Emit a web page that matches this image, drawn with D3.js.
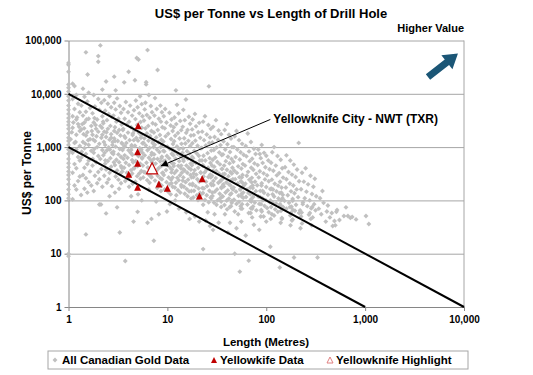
<!DOCTYPE html>
<html>
<head>
<meta charset="utf-8">
<script src="https://cdn.jsdelivr.net/npm/d3@7"></script>
<style>
  body { margin: 0; background: #fff; }
  svg { font-family: "Liberation Sans", Arial, sans-serif; font-weight: bold; }
</style>
</head>
<body>
<svg id="drawing_region"></svg>
<script>
// tick values
const xTicks = [1, 10, 100, 1000, 10000];
const yTicks = [1, 10, 100, 1000, 10000, 100000];

// All Canadian gold data [length m, US$ per tonne]
const canadianGold = [
  [1,38000],[1,35000],[1,26000],[1,15000],[1,13000],[1,11000],[1,9000],[1,7500],[1,6000],[1,5000],[1,4200],[1,3500],[1,3000],[1,2600],[1,2200],[1,1800],[1,1500],[1,1300],[1,1100],[1,900],[1,750],[1,600],[1,500],[1,420],[1,350],[1,300],[1,250],[1,200],[1,160],[1,130],[1,110],[1,10],[1,9],
  [1.1,15500],[1.15,14000],[1.2,9500],[1.1,8000],[1.25,6500],[1.15,5200],[1.3,4500],[1.1,3800],[1.2,3300],[1.25,2700],[1.1,2300],[1.3,2000],[1.2,1700],[1.05,1400],[1.15,1200],[1.3,1050],[1.2,900],[1.1,780],[1.25,650],[1.3,560],[1.15,480],[1.2,400],[1.1,330],[1.3,280],[1.25,230],[1.15,190],[1.2,160],[1.34,126],[1.1,105],
  [1.5,60000],[1.56,23000],[1.4,12500],[1.6,10500],[1.45,8800],[1.55,7200],[1.35,6000],[1.65,5400],[1.5,4600],[1.4,3900],[1.6,3400],[1.45,2900],[1.7,2500],[1.35,2150],[1.55,1900],[1.5,1650],[1.65,1400],[1.4,1250],[1.6,1100],[1.45,950],[1.7,850],[1.5,740],[1.35,640],[1.6,560],[1.55,480],[1.45,410],[1.65,350],[1.4,300],[1.5,260],[1.6,220],[1.7,190],[1.45,165],[1.55,140],[1.5,23],
  [2.1,81000],[2,51000],[2,40000],[2.2,12000],[1.8,9500],[2,8000],[2.15,6800],[1.85,5800],[2.05,5000],[1.75,4300],[2.2,3800],[1.95,3300],[1.8,2900],[2.1,2500],[1.9,2200],[2,1950],[1.75,1700],[2.15,1500],[1.85,1300],[2.05,1150],[1.95,1000],[2.2,880],[1.8,780],[2,680],[2.1,600],[1.9,520],[1.75,450],[2.15,390],[2,340],[1.85,290],[2.05,250],[1.95,210],[2.2,180],[2.05,84],[2.13,84],[1.8,150],
  [2.4,17000],[2.6,9000],[2.3,7600],[2.5,6500],[2.7,5600],[2.35,4800],[2.55,4200],[2.75,3700],[2.45,3200],[2.25,2800],[2.65,2500],[2.5,2200],[2.3,1950],[2.7,1750],[2.4,1550],[2.6,1380],[2.8,1250],[2.35,1100],[2.55,980],[2.45,870],[2.75,780],[2.25,700],[2.65,620],[2.5,550],[2.35,490],[2.7,430],[2.4,380],[2.6,330],[2.3,290],[2.55,250],[2.45,215],[2.75,185],[2.4,57],[2.6,120],
  [2.9,21000],[3,11600],[3.1,8200],[2.9,6800],[3.3,5900],[3,5100],[3.4,4400],[2.85,3900],[3.2,3400],[3.05,3000],[3.45,2650],[2.95,2350],[3.25,2100],[3.1,1850],[3.35,1650],[2.9,1450],[3.15,1300],[3.5,1150],[3,1020],[3.3,920],[2.85,820],[3.2,730],[3.4,650],[3.05,580],[3.25,520],[2.95,460],[3.45,410],[3.1,365],[3.35,320],[3,280],[3.2,245],[3.4,210],[3.3,25],[3.1,74],[2.95,140],[3.25,165],
  [3.66,16400],[4.06,26000],[3.8,7000],[4.2,6000],[3.6,5200],[4,4500],[4.4,3900],[3.7,3400],[4.1,3000],[3.9,2650],[4.3,2350],[3.55,2100],[4,1870],[4.45,1680],[3.75,1500],[4.15,1350],[3.85,1200],[4.35,1080],[3.6,970],[4.05,870],[4.25,780],[3.7,700],[3.95,630],[4.4,570],[3.8,510],[4.1,460],[3.65,410],[4.3,370],[3.9,330],[4.2,295],[4,260],[3.75,230],[4.45,205],[4.1,180],[3.75,7.3],[4.55,40],[4.3,120],
  [4.9,47000],[5.1,44000],[4.7,18000],[5.3,9000],[4.8,7500],[5.5,6400],[5,5600],[4.6,4900],[5.2,4300],[5.6,3800],[4.75,3350],[5.35,2950],[4.95,2600],[5.5,2300],[4.65,2050],[5.15,1850],[5.45,1650],[4.85,1480],[5.05,1320],[5.6,1180],[4.7,1060],[5.25,950],[5.4,850],[4.9,760],[5.1,680],[5.55,610],[4.8,550],[5.3,490],[5,440],[4.6,395],[5.45,355],[5.2,320],[4.95,285],[5.35,255],[5,61],[5.05,130],[5.5,100],[4.75,225],
  [6.3,66000],[6.1,16500],[6.1,15000],[6.5,9500],[6,6800],[6.8,5900],[5.9,5100],[7,4500],[6.2,4000],[6.6,3550],[5.8,3150],[7.1,2800],[6.4,2500],[6,2250],[6.9,2000],[6.2,1800],[6.7,1620],[5.85,1460],[6.45,1320],[7.1,1190],[6.05,1070],[6.6,960],[6.3,870],[6.95,780],[5.9,700],[6.5,630],[6.8,570],[6.15,510],[7.05,460],[6.35,415],[6.7,375],[5.95,335],[6.55,300],[6.9,270],[6.25,240],[6.6,215],[6.3,38],[7.3,17.5],[6.9,45],[6.5,160],
  [7.96,28000],[7.5,8300],[8.5,6000],[7.8,5200],[8.8,4500],[7.4,3900],[8.2,3400],[8.6,3000],[7.6,2650],[8.9,2350],[8,2100],[7.3,1880],[8.4,1690],[7.7,1520],[8.7,1370],[8.1,1230],[7.45,1110],[8.55,1000],[7.85,900],[8.3,810],[7.35,730],[8.8,660],[7.95,600],[8.45,540],[7.6,490],[8.65,440],[8.15,400],[7.75,360],[8.9,325],[8,290],[8.5,260],[7.5,235],[8.25,210],[8.75,190],[7.9,170],[8.6,150],[8.2,55],[7.7,95],
  [9.5,5200],[10.5,4400],[9.2,3800],[11,3300],[9.8,2900],[10.8,2550],[9.4,2250],[11.3,2000],[10.2,1780],[9.6,1590],[10.9,1420],[9.1,1270],[11.4,1140],[10,1020],[10.6,920],[9.3,830],[11.1,750],[9.9,680],[10.4,615],[9.5,555],[11.2,500],[10.1,455],[10.7,410],[9.7,370],[11,335],[9.2,300],[10.3,270],[10.9,245],[9.8,220],[10.5,200],[11.3,180],[9.4,160],[10.2,145],[10.8,130],[9.9,62],[10.6,85],
  [12.2,11600],[12.5,6200],[13,4300],[11.8,3600],[13.5,3100],[12.3,2700],[11.6,2350],[13.8,2080],[12.8,1840],[12,1630],[13.3,1450],[11.7,1290],[13.9,1150],[12.5,1030],[13.1,920],[11.9,830],[12.7,745],[13.6,670],[12.1,605],[13.2,545],[11.6,490],[12.9,445],[13.7,400],[12.4,360],[11.8,325],[13.4,295],[12.6,265],[13,240],[12.2,215],[13.8,195],[11.9,175],[12.8,155],[13.5,140],[12.3,125],[13.1,70],[12,100],
  [15.4,7800],[14.5,5000],[16.5,3700],[15,3200],[17,2750],[14.3,2400],[16,2100],[15.5,1850],[17.3,1650],[14.8,1470],[16.3,1310],[15.2,1170],[17,1050],[14.4,940],[15.8,840],[16.8,755],[15.1,680],[16.1,610],[14.6,550],[17.2,495],[15.6,450],[16.5,405],[14.9,365],[15.9,330],[17.1,300],[14.5,270],[16.2,245],[15.3,220],[16.9,200],[14.7,180],[15.7,163],[16.6,148],[15,133],[16,120],[17.4,108],[15.5,60],[16.8,45],
  [19,4200],[18,3300],[21,2850],[19.5,2450],[17.8,2150],[20.5,1900],[18.5,1680],[21.5,1490],[19.2,1320],[17.9,1180],[20.2,1060],[21.8,950],[18.7,850],[19.8,765],[20.8,690],[18.2,620],[21.3,560],[19.4,505],[17.7,455],[20.5,410],[18.9,370],[21.7,335],[19.6,305],[18.4,275],[20.1,250],[21,225],[18,205],[19.3,185],[20.7,168],[18.6,152],[21.4,138],[19.9,125],[18.3,113],[20.4,102],[23,12.2],[19,50],[21,40],
  [26.3,13800],[24,3800],[23,3000],[26,2600],[27.5,2200],[22.5,1950],[25,1720],[27,1520],[23.5,1350],[26.5,1200],[24.5,1070],[22.3,960],[27.8,860],[25.5,770],[23.2,690],[26.8,620],[24.2,560],[27.3,505],[22.8,455],[25.8,410],[24.8,370],[23.8,335],[27.1,305],[26,275],[22.6,250],[24.6,225],[27.6,205],[25.2,185],[23.4,168],[26.6,152],[22.9,138],[25,125],[27.4,113],[24,102],[26.2,92],[23,83],[25.6,60],[24.4,42],[27,33],
  [31,3200],[29,2400],[33,2050],[35,1750],[30,1550],[32.5,1380],[28.5,1220],[34.5,1090],[31.5,980],[29.5,880],[33.5,790],[35.5,710],[30.5,640],[28.8,580],[32,525],[34,475],[29.8,430],[35.8,390],[31.2,355],[33.2,320],[28.3,290],[30.8,262],[34.8,238],[32.8,215],[29.2,195],[35.2,177],[31.8,161],[30.2,146],[33.8,133],[28.6,121],[34.2,110],[32.2,100],[29.6,91],[31.4,83],[35,75],[30,55],[33,38],[29,28],
  [40,2700],[38,2100],[42,1700],[44,1450],[37,1280],[40.5,1130],[45,1000],[38.5,900],[43,810],[36.5,730],[41,660],[44.5,600],[39,545],[42.5,495],[37.5,450],[45.5,410],[40,375],[43.5,342],[38,312],[41.5,285],[36.8,260],[44,238],[39.5,218],[42,200],[37.2,183],[45.2,168],[40.8,154],[38.8,141],[43.2,129],[36.3,118],[41.8,108],[39.8,99],[44.8,90],[37.8,82],[42.8,75],[40.2,68],[38.2,55],[43,38],[41,25],[48,10],
  [50,2000],[48,1600],[53,1350],[57,1150],[47,1000],[51,900],[55,800],[59,720],[49,650],[54,585],[46.5,530],[58,480],[52,435],[56,395],[47.5,360],[50.5,328],[57.5,300],[53.5,273],[48.5,250],[55.5,228],[51.5,208],[59.5,190],[46.8,174],[54.5,159],[49.5,146],[56.5,134],[52.5,122],[58.5,112],[47.2,103],[53,94],[50,86],[55,78],[57,70],[48,62],[52,55],[56,40],[50,30],[54,4.6],
  [65,1800],[70,1250],[62,1050],[75,930],[67,830],[78,740],[63,670],[72,605],[68,545],[76,495],[61,450],[70.5,410],[74,375],[65.5,343],[79,315],[63.5,290],[71.5,265],[67.5,244],[77,224],[61.5,206],[73,190],[69,175],[64,161],[78.5,149],[66,137],[75.5,126],[62.5,116],[71,107],[68.5,99],[76.5,91],[64.5,84],[73.5,77],[70,71],[79.5,65],[66.5,58],[72,48],[66.5,7.4],[75,35],[62,22],
  [86,740],[90,1100],[83,900],[95,780],[100,690],[88,620],[105,560],[92,505],[82,460],[98,420],[108,385],[86,352],[94,322],[102,295],[84,270],[97,248],[106,228],[90,210],[81,193],[100,178],[110,164],[87,151],[95,139],[104,128],[83,118],[92,109],[99,101],[108,93],[85,86],[96,79],[102,72],[89,66],[106,60],[94,50],[100,40],[110,13.5],[85,28],
  [120,1000],[115,800],[130,680],[140,580],[112,510],[125,450],[145,400],[118,360],[135,325],[128,295],[148,268],[114,245],[138,224],[122,205],[132,189],[143,174],[117,160],[127,148],[137,137],[147,127],[120,118],[133,109],[142,101],[113,94],[126,87],[139,80],[148,74],[123,68],[131,61],[137,5.5],[120,52],[144,45],
  [213,1200],[160,700],[175,560],[190,470],[155,420],[205,380],[168,340],[182,305],[198,275],[160,250],[215,228],[173,208],[188,190],[158,175],[203,161],[178,148],[193,136],[165,125],[210,115],[185,106],[153,98],[170,90],[200,83],[180,76],[160,70],[195,64],[215,58],[175,52],[191,8.5],[185,44],
  [250,400],[230,330],[280,290],[310,255],[240,225],[265,200],[300,180],[225,162],[255,146],[290,132],[320,120],[245,110],[275,100],[235,92],[305,85],[260,78],[285,71],[315,65],[228,59],[270,54],[330,8.5],[295,48],
  [340,70],[360,55],[380,90],[410,62],[440,48],[400,40],[350,110],[420,80],[460,58],[370,150],
  [512,61],[520,66],[640,74],[610,51],[670,51],[710,47],[740,49],[810,44],[1020,51],[1090,36],[470,33],[500,34],[550,43],[490,41],
  // dense core of the cloud
  [1.12,2900],[1.08,1900],[1.18,1250],[1.22,3600],[1.06,850],[1.28,2400],
  [1.38,2700],[1.42,1750],[1.48,1150],[1.36,820],[1.52,3300],[1.44,2250],[1.58,1350],
  [1.72,2000],[1.78,1380],[1.82,920],[1.88,2600],[1.76,600],[1.92,1600],[1.83,3500],
  [2.2,1700],[2.28,1250],[2.32,780],[2.18,2300],[2.36,560],[2.24,3000],[2.42,1900],
  [2.7,1500],[2.78,1100],[2.84,740],[2.9,2000],[2.62,900],[2.96,1300],[2.88,520],
  [3.45,1200],[3.52,880],[3.6,600],[3.68,1600],[3.4,440],[3.72,1050],[3.58,2200],[3.5,350],
  [4.35,1000],[4.42,720],[4.5,520],[4.58,1350],[4.3,880],[4.62,410],[4.48,1800],[4.4,320],
  [5.45,900],[5.55,640],[5.65,450],[5.75,1200],[5.4,1500],[5.8,340],[5.6,780],[5.7,270],
  [6.9,720],[7,520],[7.15,360],[7.25,1000],[6.85,280],[7.3,600],[7.2,1300],
  [8.7,620],[8.85,460],[9,330],[9.1,850],[8.8,250],[9.2,540],[8.95,1100],
  [10.9,520],[11.1,380],[11.3,270],[11.5,700],[11,210],[11.6,440],[11.2,900],
  [13.8,450],[14,330],[14.3,235],[14.5,600],[13.9,180],[14.6,380],[14.2,780],
  [17.3,380],[17.6,270],[17.9,195],[18.2,520],[17.5,150],[18.4,320],[17.8,650],
  [21.8,330],[22.2,240],[22.6,170],[23,450],[21.9,130],[23.2,280],[22.4,560],
  [27.5,270],[28,195],[28.5,140],[29,360],[27.8,110],[29.2,230],[28.3,450],
  [34.5,230],[35.2,170],[35.8,120],[36.5,310],[35,95],[36.8,200],[35.5,390],
  [43.5,190],[44.3,135],[45,98],[46,250],[44,78],[46.2,160],[44.8,320],
  [55,165],[56,120],[57,85],[58,210],[55.5,70],[58.5,140],[56.5,270],
  [69,130],[70.5,95],[72,70],[73,170],[69.5,58],[73.5,115],[71,220],
  [87,115],[88.5,85],[90,62],[92,150],[88,50],[92.5,100],[89.5,190],
  [110,100],[112,75],[114,55],[116,130],[111,45],[117,88],[113,165],
  [138,85],[141,64],[144,47],[146,110],[140,38],[147,75],[142,140],
  [174,75],[178,58],[182,42],[185,98],[176,34],[186,66],
  [220,65],[225,50],[230,37],[234,85],[222,30],
  [276,58],[282,45],[288,34],[292,75]
];

// Yellowknife data [length m, US$ per tonne]
const yellowknife = [[5.07,2520],[5,820],[5,497],[4.06,309],[5,176],[8.2,203],[10,169],[22.5,255],[21.1,121]];
// Yellowknife highlight
const highlight = [[7,400]];

// value lines: [start, end]
const upperLine = [[1,10000],[10000,1]];
const lowerLine = [[1,1000],[1000,1]];

// annotation arrow: from label end to highlight
const calloutArrow = [[110,3300],[8.6,442]];

const legendItems = ["All Canadian Gold Data", "Yellowkife Data", "Yellowknife Highlight"];

const config = {
  width: 533, height: 375,
  left: 68.5, right: 464, top: 40.5, bottom: 307
};

const svg = d3.select("#drawing_region")
  .attr("width", config.width)
  .attr("height", config.height);

const x = d3.scaleLog().domain([1, 10000]).range([config.left, config.right]);
const y = d3.scaleLog().domain([1, 100000]).range([config.bottom, config.top]);
const fmt = d3.format(",");

// gridlines
svg.append("g")
  .attr("transform", `translate(${config.left},0)`)
  .call(d3.axisLeft(y).tickValues(yTicks).tickSize(-(config.right - config.left)).tickFormat(""))
  .call(g => g.select(".domain").remove())
  .call(g => g.selectAll("line").attr("stroke", "#a6a6a6"));

// right border
svg.append("line")
  .attr("x1", config.right).attr("x2", config.right)
  .attr("y1", config.top).attr("y2", config.bottom)
  .attr("stroke", "#a6a6a6");

// y axis
svg.append("g")
  .attr("transform", `translate(${config.left},0)`)
  .call(d3.axisLeft(y).tickValues(yTicks).tickFormat(fmt).tickSize(4).tickSizeOuter(0).tickPadding(3))
  .call(g => g.select(".domain").attr("stroke", "#868686"))
  .call(g => g.selectAll("line").attr("stroke", "#868686"))
  .call(g => g.selectAll("text").attr("font-size", 10).attr("font-family", null).attr("font-weight", "bold").attr("fill", "#000"));

// x axis
svg.append("g")
  .attr("transform", `translate(0,${config.bottom})`)
  .call(d3.axisBottom(x).tickValues(xTicks).tickFormat(fmt).tickSize(4).tickSizeOuter(0).tickPadding(5))
  .call(g => g.select(".domain").attr("stroke", "#868686"))
  .call(g => g.selectAll("line").attr("stroke", "#868686"))
  .call(g => g.selectAll("text").attr("font-size", 10).attr("font-family", null).attr("font-weight", "bold").attr("fill", "#000"));

// gray scatter
const diamond = d3.symbol().type(d3.symbolSquare).size(12);
svg.append("g")
  .selectAll("path")
  .data(canadianGold)
  .join("path")
  .attr("d", diamond)
  .attr("transform", d => `translate(${x(d[0])},${y(d[1])}) rotate(45)`)
  .attr("fill", "#c0c0c0");

// value lines
const line = d3.line().x(d => x(d[0])).y(d => y(d[1]));
svg.append("g")
  .selectAll("path")
  .data([upperLine, lowerLine])
  .join("path")
  .attr("d", line)
  .attr("fill", "none")
  .attr("stroke", "#000")
  .attr("stroke-width", 2);

// triangles
function tri(w, h) {
  return `M0,${-h / 2}L${w / 2},${h / 2}L${-w / 2},${h / 2}Z`;
}
svg.append("g")
  .selectAll("path")
  .data(yellowknife)
  .join("path")
  .attr("d", tri(7, 7))
  .attr("transform", d => `translate(${x(d[0])},${y(d[1])})`)
  .attr("fill", "#c00000");

svg.append("g")
  .selectAll("path")
  .data(highlight)
  .join("path")
  .attr("d", tri(11, 11))
  .attr("transform", d => `translate(${x(d[0])},${y(d[1])})`)
  .attr("fill", "#fff")
  .attr("stroke", "#c00000")
  .attr("stroke-width", 1.2);

// callout
svg.append("defs").append("marker")
  .attr("id", "head")
  .attr("viewBox", "0 0 10 10")
  .attr("refX", 10).attr("refY", 5)
  .attr("markerWidth", 7).attr("markerHeight", 7)
  .attr("markerUnits", "userSpaceOnUse")
  .attr("orient", "auto")
  .append("path").attr("d", "M0,0L10,5L0,10Z").attr("fill", "#000");

svg.append("path")
  .attr("d", line(calloutArrow))
  .attr("stroke", "#000")
  .attr("stroke-width", 1)
  .attr("marker-end", "url(#head)");

svg.append("text")
  .attr("x", x(calloutArrow[0][0]) + 3)
  .attr("y", y(calloutArrow[0][1]) + 4)
  .attr("font-size", 12)
  .text("Yellowknife City - NWT (TXR)");

// title
svg.append("text")
  .attr("x", 271).attr("y", 18)
  .attr("text-anchor", "middle")
  .attr("font-size", 13)
  .text("US$ per Tonne vs Length of Drill Hole");

svg.append("text")
  .attr("x", 464).attr("y", 32)
  .attr("text-anchor", "end")
  .attr("font-size", 11)
  .text("Higher Value");

// higher value arrow
svg.append("path")
  .attr("d", "M0,-3.5L24,-3.5L24,-9L38,0L24,9L24,3.5L0,3.5Z")
  .attr("transform", "translate(428,77) rotate(-38)")
  .attr("fill", "#1b5676");

// axis titles
svg.append("text")
  .attr("x", 266).attr("y", 346)
  .attr("text-anchor", "middle")
  .attr("font-size", 11.5)
  .text("Length (Metres)");

svg.append("text")
  .attr("transform", "translate(31,173) rotate(-90)")
  .attr("text-anchor", "middle")
  .attr("font-size", 12)
  .text("US$ per Tonne");

// legend
const legend = svg.append("g");
legend.append("rect")
  .attr("x", 48).attr("y", 351)
  .attr("width", 420).attr("height", 18)
  .attr("fill", "#fff")
  .attr("stroke", "#a6a6a6");

const legendX = [62, 220, 336];
legend.selectAll("text")
  .data(legendItems)
  .join("text")
  .attr("x", (d, i) => legendX[i])
  .attr("y", 364)
  .attr("font-size", 11.5)
  .text(d => d);

legend.append("path")
  .attr("d", diamond)
  .attr("transform", `translate(${legendX[0] - 7},360) rotate(45)`)
  .attr("fill", "#c0c0c0");
legend.append("path")
  .attr("d", tri(6, 6))
  .attr("transform", `translate(${legendX[1] - 6},360)`)
  .attr("fill", "#c00000");
legend.append("path")
  .attr("d", tri(6, 6))
  .attr("transform", `translate(${legendX[2] - 6},360)`)
  .attr("fill", "#fff")
  .attr("stroke", "#e08080");
</script>
</body>
</html>
